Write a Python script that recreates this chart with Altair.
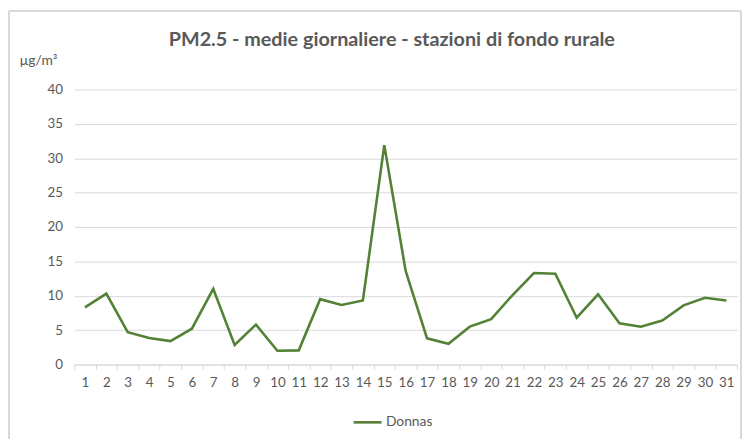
import altair as alt
import pandas as pd

days = list(range(1, 32))
donnas = [8.3, 10.3, 4.7, 3.85, 3.4, 5.2, 11.0, 2.85, 5.8, 2.0, 2.05, 9.5, 8.65, 9.3, 31.9,
          13.6, 3.8, 3.0, 5.5, 6.6, 10.1, 13.3, 13.2, 6.8, 10.2, 6.0, 5.5, 6.4, 8.6, 9.7, 9.3]
series_name = "Donnas"
title_text = "PM2.5 - medie giornaliere - stazioni di fondo rurale"
unit_text = "µg/m³"

df = pd.DataFrame({"day": days, "value": donnas, "series": [series_name] * len(days)})

W, H = 670, 278
PL, PT, PR, PB = 67, 80, 5, 73
FONT = "Lato"
GRAY = "#595959"
LIGHT = "#d9d9d9"

line = alt.Chart(df).mark_line(strokeWidth=2.6, color="#538135").encode(
    x=alt.X("day:O", bandPosition=0.5,
            scale=alt.Scale(type="band", paddingInner=0, paddingOuter=0),
            axis=alt.Axis(title=None, labelAngle=0, tickBand="extent", grid=False,
                          domainColor=LIGHT, tickColor=LIGHT, tickSize=5,
                          labelColor=GRAY, labelFontSize=13.5, labelPadding=6, labelFont=FONT)),
    y=alt.Y("value:Q", scale=alt.Scale(domain=[0, 40]),
            axis=alt.Axis(values=list(range(0, 41, 5)), title=unit_text, titleAngle=0,
                          titleAlign="left", titleBaseline="alphabetic", titleX=-56, titleY=-25,
                          titleFont=FONT, titleFontSize=14, titleFontWeight="normal", titleColor=GRAY,
                          domain=False, ticks=False, gridColor=LIGHT, gridWidth=1,
                          labelColor=GRAY, labelFontSize=13.5, labelPadding=12, labelFont=FONT)),
    color=alt.Color("series:N", scale=alt.Scale(range=["#538135"]),
                    legend=alt.Legend(title=None, orient="none", legendX=281, legendY=321,
                                      symbolType="stroke", symbolStrokeWidth=2.6, symbolSize=800,
                                      labelOffset=3,
                                      labelColor=GRAY, labelFontSize=14, labelFont=FONT)),
)

border = alt.Chart(df).mark_rect(fill=None, stroke=LIGHT, strokeWidth=1, clip=False).encode(
    x=alt.value(-66), x2=alt.value(W + 4), y=alt.value(-79), y2=alt.value(H + 90)
)

chart = alt.layer(border, line).properties(
    width=W, height=H,
    title=alt.TitleParams(title_text, font=FONT, fontSize=20, fontWeight="bold", color=GRAY,
                          anchor="middle", offset=0, dy=40, dx=-14),
    autosize=alt.AutoSizeParams(type="none"),
    padding={"left": PL, "top": PT, "right": PR, "bottom": PB},
).configure_view(stroke=None)

chart.save("out.html", embed_options={"renderer": "svg", "actions": False})
